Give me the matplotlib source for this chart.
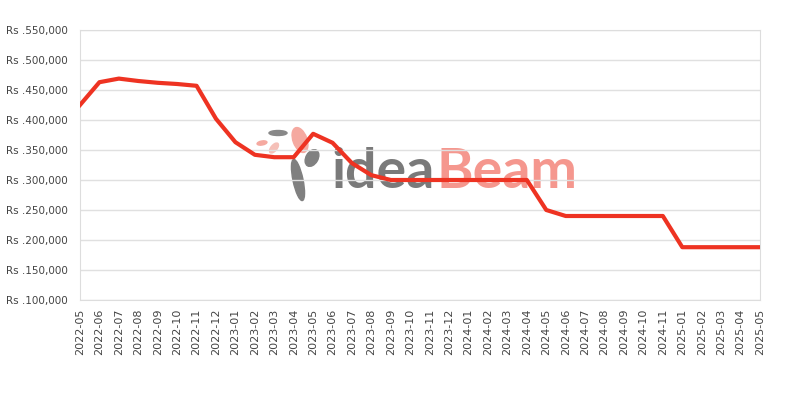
import matplotlib
matplotlib.use('Agg')
import matplotlib.pyplot as plt
from matplotlib.ticker import FuncFormatter
from matplotlib.patches import Ellipse

# months on the x axis (2024-12 is missing in the source)
months = ['2022-05', '2022-06', '2022-07', '2022-08', '2022-09', '2022-10', '2022-11', '2022-12',
          '2023-01', '2023-02', '2023-03', '2023-04', '2023-05', '2023-06', '2023-07', '2023-08',
          '2023-09', '2023-10', '2023-11', '2023-12', '2024-01', '2024-02', '2024-03', '2024-04',
          '2024-05', '2024-06', '2024-07', '2024-08', '2024-09', '2024-10', '2024-11',
          '2025-01', '2025-02', '2025-03', '2025-04', '2025-05']

prices = [425000, 463000, 469000, 465000, 462000, 460000, 457000, 402000,
          363000, 342000, 338000, 338000, 377000, 362000, 328000, 308000,
          300000, 300000, 300000, 300000, 300000, 300000, 300000, 300000,
          250000, 240000, 240000, 240000, 240000, 240000, 240000,
          188000, 188000, 188000, 188000, 188000]

y_ticks = [100000, 150000, 200000, 250000, 300000, 350000, 400000, 450000, 500000, 550000]

fig = plt.figure(figsize=(8, 4), dpi=100)

# watermark layer in pixel units (behind everything)
bg = fig.add_axes([0, 0, 1, 1], zorder=0)
bg.set_xlim(0, 800)
bg.set_ylim(400, 0)
bg.axis('off')
t1 = bg.text(331, 188, 'idea', fontsize=40, color='#7a7a7a',
             family='Lato', weight='bold', ha='left', va='baseline')
fig.canvas.draw()
bb = t1.get_window_extent()
bg.text(bb.x1 + 2, 188, 'Beam', fontsize=40, color='#f5978e',
        family='Lato', weight='bold', ha='left', va='baseline')
# little feather icon
bg.add_patch(Ellipse((298, 180), 10, 42, angle=-12, color='#808080'))
bg.add_patch(Ellipse((312, 158), 12, 18, angle=30, color='#808080'))
bg.add_patch(Ellipse((300, 140), 14, 26, angle=-20, color='#f5a9a0'))
bg.add_patch(Ellipse((278, 133), 18, 5, angle=0, color='#888888'))
bg.add_patch(Ellipse((262, 143), 10, 4, angle=-10, color='#f5a9a0'))
bg.add_patch(Ellipse((274, 148), 6, 12, angle=40, color='#f5c0b8'))

ax = fig.add_axes([0.1, 0.25, 0.85, 0.675], zorder=1)
x = list(range(len(months)))
ax.plot(x, prices, color='#ee3322', linewidth=3, zorder=3)

ax.set_xlim(0, len(months) - 1)
ax.set_ylim(100000, 550000)
ax.set_xticks(x)
ax.set_xticklabels(months, rotation=90, fontsize=8, color='#444444')
ax.set_yticks(y_ticks)
ax.yaxis.set_major_formatter(FuncFormatter(lambda v, p: 'Rs .{:,.0f}'.format(v)))
ax.tick_params(axis='y', labelsize=7.5, labelcolor='#444444', length=0, pad=9)
ax.tick_params(axis='x', length=0, pad=6)

ax.grid(axis='y', color='#e0e0e0', linewidth=1)
ax.set_axisbelow(True)
ax.patch.set_alpha(0)
for s in ax.spines.values():
    s.set_color('#dddddd')

plt.savefig('out.png', dpi=100)
plt.close()
